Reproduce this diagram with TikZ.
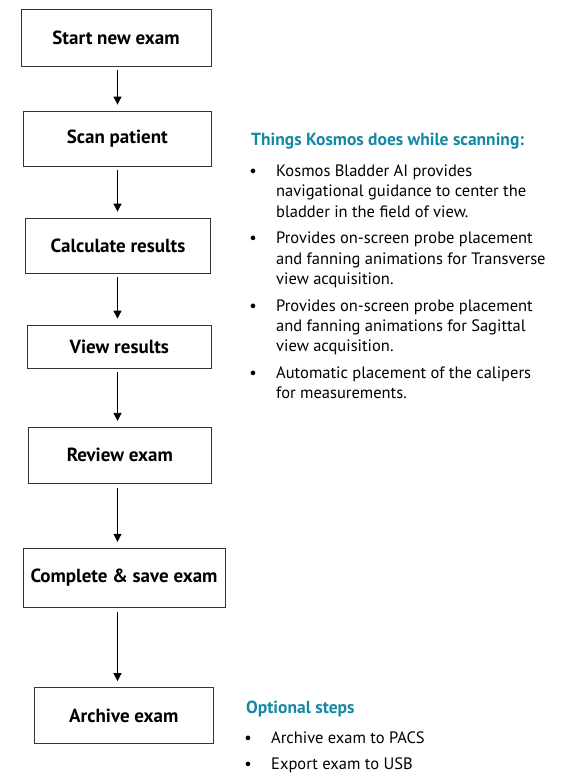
\documentclass[tikz,border=0pt]{standalone}
\usepackage{fontspec}
\setmainfont{PT Sans}
\usepackage{xcolor}
\usepackage{tikz}
\usetikzlibrary{positioning, calc, arrows.meta}
\definecolor{kosmosteal}{RGB}{20,136,164}
\tikzset{
  stepbox/.style={draw=black!80, line width=0.8pt, align=center, font=\fontsize{19}{22}\selectfont\bfseries, inner sep=0pt},
  flowarrow/.style={line width=0.8pt, -{Triangle[length=8pt,width=8pt]}, shorten <=4pt, shorten >=6pt},
  notehead/.style={text=kosmosteal, font=\fontsize{17.5}{20}\selectfont\bfseries, inner sep=0pt, anchor=base west},
  noteitem/.style={align=left, font=\fontsize{16.5}{20.3}\selectfont, inner sep=0pt, anchor=north west},
  dotmark/.style={font=\fontsize{16.5}{20.3}\selectfont, inner sep=0pt, anchor=north east}
}
\begin{document}
\begin{tikzpicture}[x=1pt,y=-1pt]
  \useasboundingbox (0,0) rectangle (561,774);

  % Flow boxes
  \node[stepbox, minimum width=190pt, minimum height=57pt] (start) at (116,37.5) {Start new exam};
  \node[stepbox, minimum width=188pt, minimum height=55pt] (scan) at (117.3,138.5) {Scan patient};
  \node[stepbox, minimum width=185pt, minimum height=55pt] (calc) at (118,245.5) {Calculate results};
  \node[stepbox, minimum width=184pt, minimum height=43pt] (view) at (119.3,346.5) {View results};
  \node[stepbox, minimum width=183pt, minimum height=56pt] (review) at (119.8,455.3) {Review exam};
  \node[stepbox, minimum width=202pt, minimum height=59pt] (complete) at (124,577.7) {Complete \& save exam};
  \node[stepbox, minimum width=179pt, minimum height=56pt] (archive) at (123.8,715.5) {Archive exam};

  % Arrows along one line
  \coordinate (spine) at (117.5,0);
  \draw[flowarrow] (start.south -| spine) -- (scan.north -| spine);
  \draw[flowarrow] (scan.south -| spine) -- (calc.north -| spine);
  \draw[flowarrow] (calc.south -| spine) -- (view.north -| spine);
  \draw[flowarrow] (view.south -| spine) -- (review.north -| spine);
  \draw[flowarrow] (review.south -| spine) -- (complete.north -| spine);
  \draw[flowarrow] (complete.south -| spine) -- (archive.north -| spine);

  % Scanning notes
  \node[notehead] (scanhead) at (251,145.5) {Things Kosmos does while scanning:};
  \node[noteitem] (k1) at (276,162) {\strut Kosmos Bladder AI provides\\navigational guidance to center the\\bladder in the field of view.\strut};
  \node[noteitem, below=6pt of k1.south west, anchor=north west] (k2) {\strut Provides on-screen probe placement\\and fanning animations for Transverse\\view acquisition.\strut};
  \node[noteitem, below=6pt of k2.south west, anchor=north west] (k3) {\strut Provides on-screen probe placement\\and fanning animations for Sagittal\\view acquisition.\strut};
  \node[noteitem, below=6pt of k3.south west, anchor=north west] (k4) {\strut Automatic placement of the calipers\\for measurements.\strut};
  \node[dotmark] at ([xshift=-19pt]k1.north west) {\strut\textbullet};
  \node[dotmark] at ([xshift=-19pt]k2.north west) {\strut\textbullet};
  \node[dotmark] at ([xshift=-19pt]k3.north west) {\strut\textbullet};
  \node[dotmark] at ([xshift=-19pt]k4.north west) {\strut\textbullet};

  % Optional steps
  \node[notehead] (opthead) at (246,713.5) {Optional steps};
  \node[noteitem] (o1) at (271,729) {\strut Archive exam to PACS\strut};
  \node[noteitem, below=5.7pt of o1.south west, anchor=north west] (o2) {\strut Export exam to USB\strut};
  \node[dotmark] at ([xshift=-19pt]o1.north west) {\strut\textbullet};
  \node[dotmark] at ([xshift=-19pt]o2.north west) {\strut\textbullet};
\end{tikzpicture}
\end{document}
